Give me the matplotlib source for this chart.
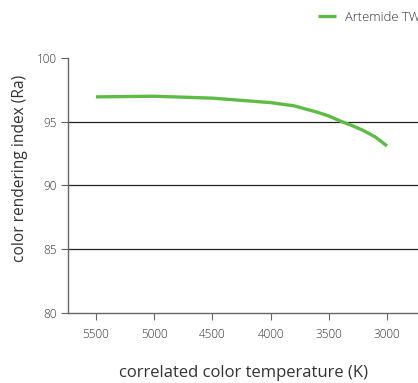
import matplotlib
matplotlib.use('Agg')
import matplotlib.pyplot as plt

# CCT vs CRI values
cct = [5500, 5000, 4500, 4000, 3800, 3600, 3500, 3400, 3300, 3200, 3100, 3000]
cri = [96.95, 97.0, 96.85, 96.5, 96.25, 95.75, 95.45, 95.05, 94.7, 94.3, 93.8, 93.1]
series_name = 'Artemide TW'
xticks = [5500, 5000, 4500, 4000, 3500, 3000]
yticks = [80, 85, 90, 95, 100]

plt.rcParams['font.family'] = ['Open Sans', 'DejaVu Sans']
plt.rcParams['font.weight'] = 'light'

fig = plt.figure(figsize=(4.18, 3.83), dpi=100)
ax = fig.add_axes([0.1627, 0.1828, 0.8373, 0.6658])

ax.plot(cct, cri, color='#5dbb46', lw=2.4, label=series_name, solid_capstyle='butt')

ax.set_xlim(5740, 2734)
ax.set_ylim(80, 100)
ax.set_xticks(xticks)
ax.set_xticklabels([str(t) for t in xticks])
ax.set_yticks(yticks)
for y in [85, 90, 95]:
    ax.axhline(y, color='#222222', lw=0.9, zorder=1)

for s in ['top', 'right']:
    ax.spines[s].set_visible(False)
for s in ['left', 'bottom']:
    ax.spines[s].set_color('#666666')
    ax.spines[s].set_linewidth(1.0)
ax.tick_params(axis='both', direction='out', length=5, color='#666666',
               labelsize=8.5, labelcolor='#333333', pad=3)
ax.tick_params(axis='x', pad=6)

ax.set_xlabel('correlated color temperature (K)', fontsize=12, color='#333333', labelpad=17)
ax.set_ylabel('color rendering index (Ra)', fontsize=11.2, color='#333333')
ax.yaxis.set_label_coords(-0.114, 0.565)

# legend sits at the top right, running off the edge like the original
leg = ax.legend(loc='center left', bbox_to_anchor=(0.761, 0.9556), bbox_transform=fig.transFigure,
                frameon=False, fontsize=9.4, handlelength=1.36, handletextpad=0.7,
                borderpad=0, borderaxespad=0)
for t in leg.get_texts():
    t.set_color('#333333')

fig.savefig('out.png', dpi=100)
